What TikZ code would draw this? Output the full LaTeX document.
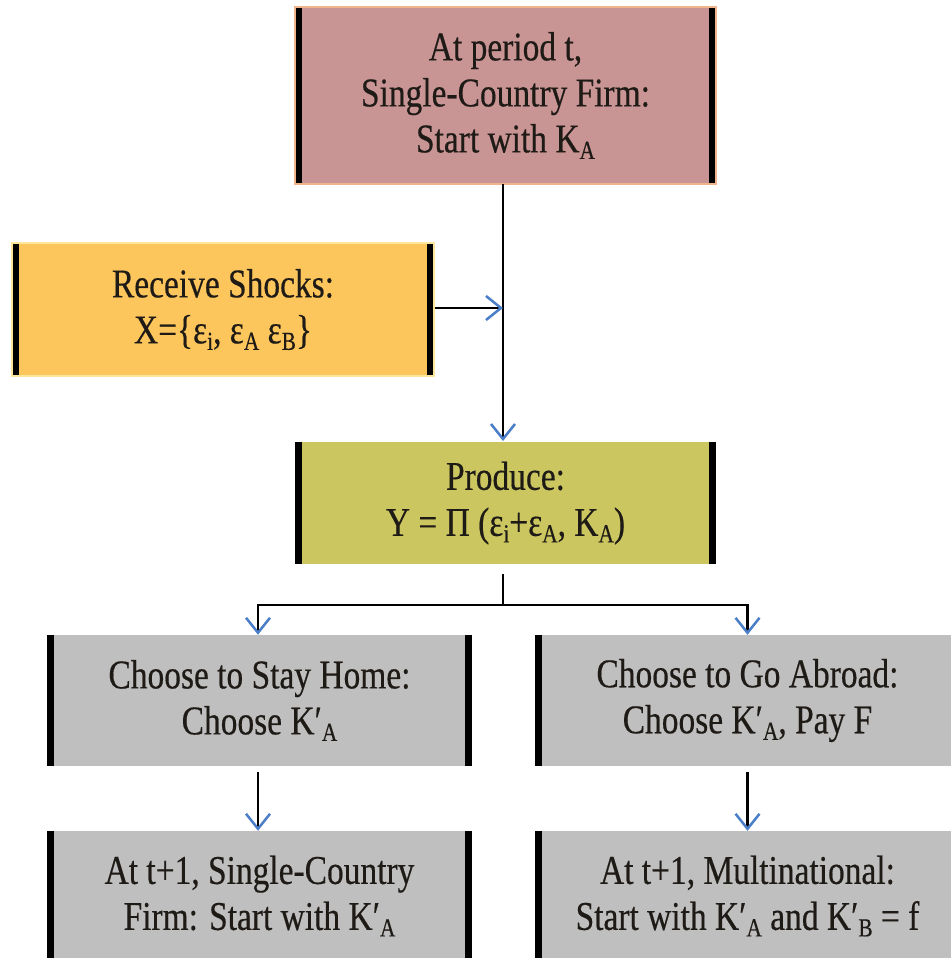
\documentclass[tikz,border=0pt]{standalone}
\usepackage{fontspec}
\setmainfont[FakeStretch=0.82, FakeBold=0.4]{Liberation Serif}
\usetikzlibrary{arrows.meta}
\definecolor{topfill}{HTML}{C99494}
\definecolor{topedge}{HTML}{F0B48C}
\definecolor{shkfill}{HTML}{FCC65C}
\definecolor{shkedge}{HTML}{FDE69A}
\definecolor{prodfill}{HTML}{CBC660}
\definecolor{grayfill}{HTML}{BFBFBF}
\definecolor{arrowblue}{HTML}{4A7EC8}
\definecolor{txt}{HTML}{1E1A16}
\newcommand\dn[1]{\raisebox{-0.35ex}{\fontsize{26}{26}\selectfont #1}}
\begin{document}
\begin{tikzpicture}[x=1pt,y=-1pt,
  box/.style={rectangle, inner sep=0pt, align=center,
    font=\fontsize{40.8}{46}\selectfont, text=txt,
    path picture={
      \fill[black] (path picture bounding box.north west) rectangle ([xshift=7pt]path picture bounding box.south west);
      \fill[black] ([xshift=-7pt]path picture bounding box.north east) rectangle (path picture bounding box.south east);}},
  ln/.style={draw=black, line width=2.5pt},
  arr/.style={ln, -{Straight Barb[length=15pt, width=24pt, line width=2.5pt, color=arrowblue]}}
]
\useasboundingbox (0,0) rectangle (950,958);
\fill[white] (0,0) rectangle (950,958);

\node[box, fill=topfill, draw=topedge, line width=1.5pt, minimum width=421pt, minimum height=177pt] (top) at (505.5,95.5)
  {At period t,\\Single-Country Firm:\\Start with K\dn{A}};
\node[box, fill=shkfill, draw=shkedge, line width=1.5pt, minimum width=422pt, minimum height=133pt] (shk) at (223,309.5)
  {Receive Shocks:\\X=\{ε\dn{i}, ε\dn{A} ε\dn{B}\}};
\node[box, fill=prodfill, minimum width=421pt, minimum height=122pt] (prod) at (505.5,503)
  {Produce:\\Y = Π (ε\dn{i}+ε\dn{A}, K\dn{A})};
\node[box, fill=grayfill, minimum width=425pt, minimum height=131pt] (stay) at (259.5,700.5)
  {Choose to Stay Home:\\Choose K′\dn{A}};
\node[box, fill=grayfill, minimum width=425pt, minimum height=131pt] (abr) at (747.5,700.5)
  {Choose to Go Abroad:\\Choose K′\dn{A}, Pay F};
\node[box, fill=grayfill, minimum width=425pt, minimum height=130pt] (nx1) at (259.5,896)
  {At t+1, Single-Country\\Firm: Start with K′\dn{A}};
\node[box, fill=grayfill, minimum width=425pt, minimum height=130pt] (nx2) at (747.5,896)
  {At t+1, Multinational:\\Start with K′\dn{A} and K′\dn{B} = f};

\coordinate (vtop) at (503,184);
\coordinate (vbot) at (503,441);
\coordinate (join) at (503,308);
\coordinate (br) at (503,605);

\draw[arr] (vtop) -- (vbot);
\draw[arr] (shk.east |- join) -- (join);
\draw[ln] ([yshift=-10pt]prod.south -| br) -- (br);
\draw[arr] (br) -| ([xshift=-1.5pt]stay.north);
\draw[arr] (br) -| (abr.north);
\draw[arr] ([yshift=-6pt,xshift=-1.5pt]stay.south) -- ([xshift=-1.5pt]nx1.north);
\draw[arr] ([yshift=-6pt]abr.south) -- (nx2.north);
\end{tikzpicture}
\end{document}
